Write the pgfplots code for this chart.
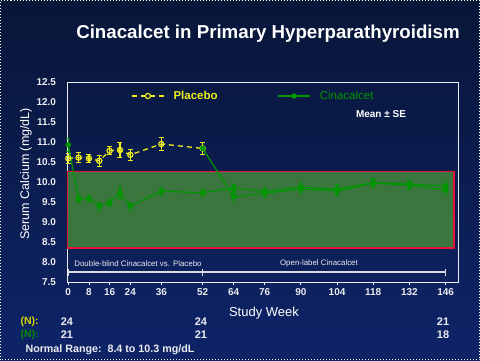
\documentclass[border=0pt]{standalone}
\usepackage{pgfplots}
\pgfplotsset{compat=1.18}
\usepackage{pgfplotstable}
\usepackage{fontspec}
\setmainfont{Liberation Sans}
\definecolor{bgtop}{RGB}{8,22,56}
\definecolor{bgbot}{RGB}{14,36,104}
\definecolor{bandgreen}{RGB}{58,118,62}
\definecolor{bandred}{RGB}{230,20,50}
\definecolor{cgreen}{RGB}{0,150,0}
\definecolor{pyellow}{RGB}{235,235,30}
\definecolor{nyellow}{RGB}{215,215,0}
\definecolor{ngreen}{RGB}{0,140,0}
\definecolor{offwhite}{RGB}{235,235,240}

\pgfplotstableread{
wk val err
0 10.59 0.12
4 10.61 0.13
8 10.59 0.10
12 10.53 0.13
16 10.78 0.10
20 10.80 0.18
24 10.68 0.14
36 10.95 0.16
52 10.84 0.14
}\placebo

\pgfplotstableread{
wk val err
0 10.93 0.16
4 9.58 0.10
8 9.59 0.08
12 9.40 0.10
16 9.48 0.10
20 9.72 0.16
24 9.40 0.10
36 9.77 0.10
52 9.73 0.08
64 9.85 0.10
76 9.76 0.10
90 9.88 0.10
104 9.82 0.12
118 9.98 0.10
132 9.95 0.10
146 9.90 0.12
}\cinaA

\pgfplotstableread{
wk val err
52 10.84 0.05
64 9.63 0.13
76 9.72 0.10
90 9.82 0.10
104 9.78 0.12
118 9.97 0.10
132 9.92 0.10
146 9.80 0.12
}\cinaB

\begin{document}
\begin{tikzpicture}
\fill[top color=bgtop,bottom color=bgbot] (0pt,0pt) rectangle (480pt,360pt);
\draw[white,dotted,line width=1pt] (0.5pt,0.5pt) rectangle (479.5pt,359.5pt);
\node[font=\bfseries\fontsize{18.7}{22}\selectfont, text=white] at (268pt,326pt) {Cinacalcet in Primary Hyperparathyroidism};
\node[rotate=90,text=white,font=\fontsize{12.5}{14}\selectfont] at (26pt,186pt) {Serum Calcium (mg/dL)};
\node[text=white,font=\fontsize{13}{15}\selectfont] at (264pt,47pt) {Study Week};
\node[anchor=west,text=nyellow,font=\bfseries\fontsize{10.5}{12}\selectfont] at (17pt,38pt) {(N):};
\node[anchor=west,text=ngreen,font=\bfseries\fontsize{10.5}{12}\selectfont] at (17pt,25pt) {(N):};
\begin{scope}[every node/.style={text=offwhite,font=\bfseries\fontsize{11}{13}\selectfont}]
\node at (67pt,38pt) {24};
\node at (201pt,38pt) {24};
\node at (443pt,38pt) {21};
\node at (67pt,25pt) {21};
\node at (201pt,25pt) {21};
\node at (443pt,25pt) {18};
\end{scope}
\node[anchor=west,text=offwhite,font=\bfseries\fontsize{10.7}{12}\selectfont] at (22pt,10pt) {Normal Range:\ \ 8.4 to 10.3 mg/dL};

\begin{axis}[
  at={(67.5pt,78pt)}, anchor=south west,
  scale only axis, width=390.5pt, height=200pt,
  xmin=-0.3, xmax=150.8, ymin=7.5, ymax=12.5,
  clip=false,
  axis line style={offwhite, line width=0.8pt},
  xtick={0,8,16,24,36,52,64,76,90,104,118,132,146},
  ytick={7.5,8,8.5,9,9.5,10,10.5,11,11.5,12,12.5},
  yticklabel style={/pgf/number format/.cd, fixed, fixed zerofill, precision=1, /tikz/.cd, xshift=-5pt},
  /pgf/number format/assume math mode=true,
  tick label style={text=offwhite, font=\bfseries\fontsize{10}{11}\selectfont},
  xtick pos=bottom, tick align=outside, major tick length=3pt,
  xtick style={offwhite, line width=0.8pt},
  ytick style={draw=none},
  legend columns=2,
  legend style={at={(0.155,0.93)}, anchor=west, draw=none, fill=none,
    font=\fontsize{11.5}{13}\selectfont,
    /tikz/every even column/.append style={column sep=58pt},
    /tikz/every odd column/.append style={column sep=7pt}},
  legend image code/.code={\draw[mark repeat=2,mark phase=2,#1] plot coordinates {(0pt,0pt) (16pt,0pt) (32pt,0pt)};},
]
\addplot[draw=bandred, line width=1.6pt, fill=bandgreen, forget plot] coordinates {(-0.3,8.35) (149.2,8.35) (149.2,10.26) (-0.3,10.26) (-0.3,8.35)};
\addplot[offwhite!85!gray, line width=1.2pt, mark=|, mark size=3.5pt, forget plot] coordinates {(0,7.75) (52,7.75) (146,7.75)};
\node[anchor=west, text=offwhite, font=\fontsize{7.9}{9}\selectfont] at (axis cs:1,7.96) {Double-blind Cinacalcet vs. Placebo};
\node[text=offwhite, font=\fontsize{7.9}{9}\selectfont] at (axis cs:97,7.96) {Open-label Cinacalcet};
\node[text=white, font=\bfseries\fontsize{10}{12}\selectfont] at (axis cs:121,11.7) {Mean ± SE};

\addplot[pyellow, line width=1.3pt, dash pattern=on 5pt off 4pt, mark=o, mark size=2.6pt,
  mark options={solid, line width=1.2pt},
  error bars/.cd, y dir=both, y explicit,
  error bar style={solid, line width=1.2pt, pyellow}, error mark options={rotate=90, mark size=2.5pt, line width=1pt, pyellow}]
  table[x=wk, y=val, y error=err] {\placebo};
\addlegendentry{\textcolor{pyellow}{\bfseries Placebo}}

\addplot[cgreen, line width=1.2pt, mark=*, mark size=2.2pt,
  error bars/.cd, y dir=both, y explicit,
  error bar style={line width=1.2pt, cgreen}, error mark options={rotate=90, mark size=2pt, line width=1pt, cgreen}]
  table[x=wk, y=val, y error=err] {\cinaA};
\addlegendentry{\textcolor{cgreen}{Cinacalcet}}

\addplot[cgreen, line width=1.2pt, mark=*, mark size=2.2pt, forget plot,
  error bars/.cd, y dir=both, y explicit,
  error bar style={line width=1.2pt, cgreen}, error mark options={rotate=90, mark size=2pt, line width=1pt, cgreen}]
  table[x=wk, y=val, y error=err] {\cinaB};
\end{axis}
\pgfresetboundingbox
\path (0pt,0pt) rectangle (480pt,360pt);
\end{tikzpicture}
\end{document}
